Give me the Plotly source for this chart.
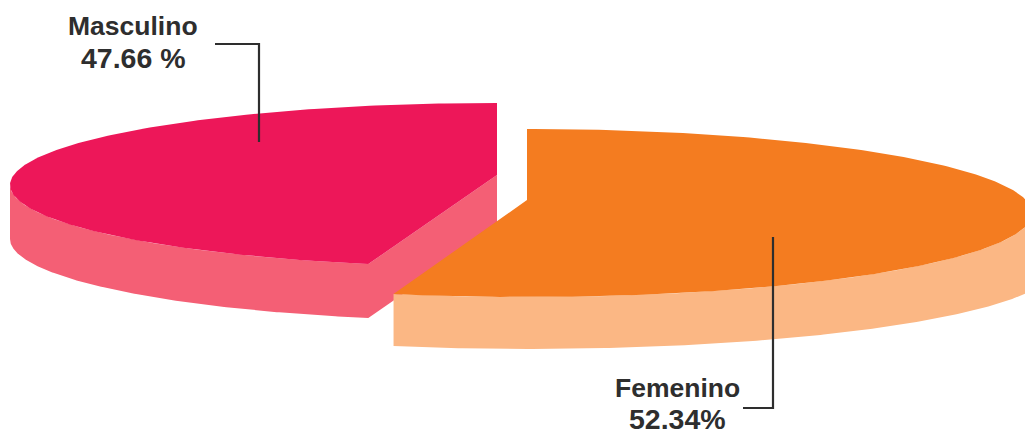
import numpy as np
import plotly.graph_objects as go

categories = ["Femenino", "Masculino"]
shares = [52.34, 47.66]
share_labels = ["52.34%", "47.66 %"]

COLOR_TOP = {"Femenino": "#F47C20", "Masculino": "#ED1759"}
COLOR_SIDE = {"Femenino": "#FBB784", "Masculino": "#F45F75"}
INK = "#2E2E2E"

# Pseudo-3D projection: (centre x, centre y, radius x, radius y, apex lift, side depth)
GEOM = {
    "Femenino": dict(cx=527, cy=213, rx=505, ry=84, lift=13, depth=52, side_stretch=1.05),
    "Masculino": dict(cx=497, cy=185, rx=487, ry=82, lift=10, depth=54, side_stretch=1.0),
}
VIEW_SKEW_DEG = 6.9  # the drawn boundary sits slightly past the true angle


def arc(g, t0, t1, n=240, depth=0):
    t = np.radians(np.linspace(t0, t1, n))
    s, c = np.sin(t), np.cos(t)
    stretch = np.where((s > 0) & (depth > 0), g["side_stretch"], 1.0)
    x = g["cx"] + g["rx"] * s * stretch
    y = g["cy"] - g["ry"] * c + depth
    return x, y


boundary = 360 * shares[0] / sum(shares) + VIEW_SKEW_DEG
spans = {"Femenino": (0.0, boundary), "Masculino": (boundary, 360.0)}

fig = go.Figure()


def poly(x, y, color):
    fig.add_trace(go.Scatter(x=x, y=y, mode="lines", fill="toself", fillcolor=color,
                             line=dict(width=0, color=color), hoverinfo="skip", showlegend=False))


for name in ["Masculino", "Femenino"]:
    g = GEOM[name]
    t0, t1 = spans[name]
    ax, ay = g["cx"], g["cy"] - g["lift"]
    # side wall: only the front (lower) part of the rim is visible
    vis0, vis1 = max(t0, 90.0), min(t1, 270.0)
    ux, uy = arc(g, vis0, vis1)
    lx, ly = arc(g, vis1, vis0, depth=g["depth"])
    if name == "Masculino":
        sx = np.r_[ux, lx, ax, ax]
        sy = np.r_[uy, ly, ay + g["depth"], ay]
    else:
        sx = np.r_[ux, lx]
        sy = np.r_[uy, ly]
    poly(sx, sy, COLOR_SIDE[name])
    tx, ty = arc(g, t0, t1)
    poly(np.r_[ax, tx, ax], np.r_[ay, ty, ay], COLOR_TOP[name])

LABEL_POS = {"Masculino": (133, 25.5, 57.5), "Femenino": (677, 388, 419)}
annos = []
for name, lab in zip(categories, share_labels):
    x, y1, y2 = LABEL_POS[name]
    annos.append(dict(x=x, y=y1, text=name, showarrow=False, xref="x", yref="y",
                      font=dict(family="Liberation Sans", size=26.5, color=INK, weight="bold")))
    annos.append(dict(x=x, y=y2, text=lab, showarrow=False, xref="x", yref="y",
                      font=dict(family="Liberation Sans", size=28.5, color=INK, weight="bold")))

shapes = [
    dict(type="path", path="M215,44 L259,44 L259,142", line=dict(color=INK, width=2.2), xref="x", yref="y"),
    dict(type="path", path="M773,237 L773,408 L743,408", line=dict(color=INK, width=2.2), xref="x", yref="y"),
]

fig.update_layout(
    width=1025, height=434, margin=dict(l=0, r=0, t=0, b=0),
    paper_bgcolor="white", plot_bgcolor="white",
    xaxis=dict(range=[0, 1025], visible=False, fixedrange=True),
    yaxis=dict(range=[434, 0], visible=False, fixedrange=True),
    annotations=annos, shapes=shapes,
)
fig.write_html("out.html", config={"displayModeBar": False},
               post_script="document.body.style.margin='0';document.body.style.overflow='hidden';")
